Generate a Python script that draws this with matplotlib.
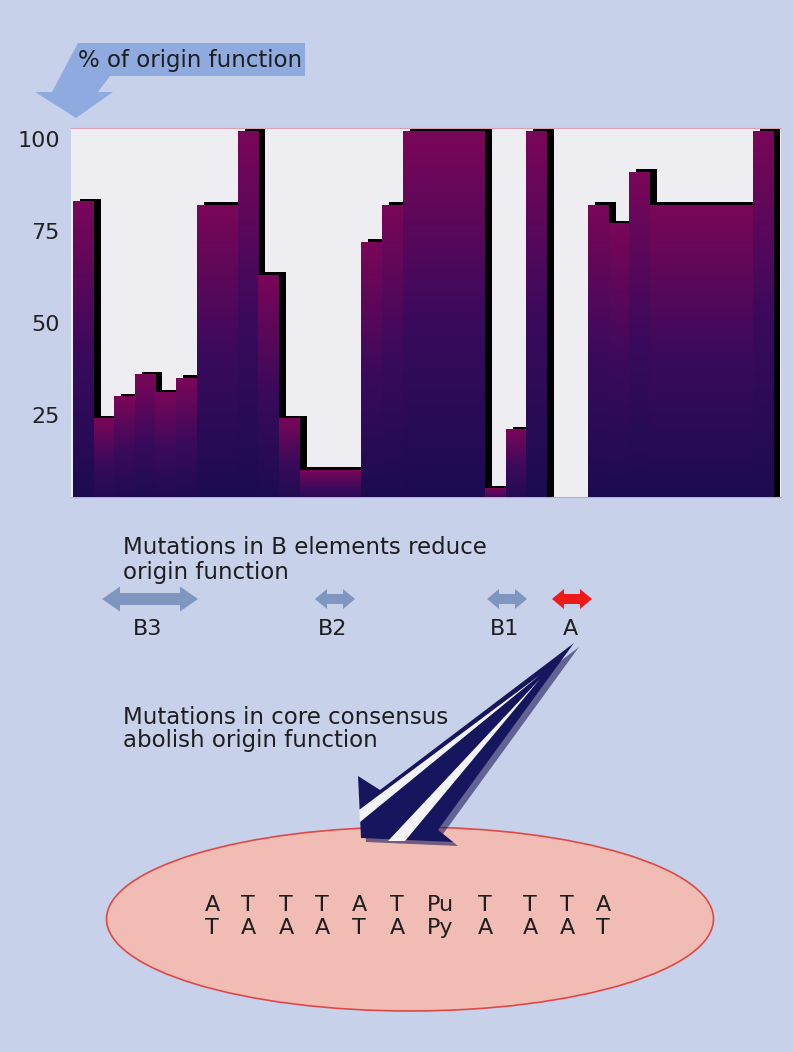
import numpy as np
import matplotlib.pyplot as plt
from matplotlib.colors import LinearSegmentedColormap
from matplotlib.patches import Polygon, Ellipse, Rectangle

# % of origin function for each mutant position (None = no mutant tested)
pct = [83, 24, 30, 36, 31, 35, 82, 82, 102, 63, 24, 10, 10, 10, 72, 82,
       102, 102, 102, 102, 5, 21, 102, None, None, 82, 77, 91, 82, 82, 82,
       82, 82, 102]
tick_vals = [100, 75, 50, 25]
elements = ['B3', 'B2', 'B1', 'A']
seq_top = ['A', 'T', 'T', 'T', 'A', 'T', 'Pu', 'T', 'T', 'T', 'A']
seq_bottom = ['T', 'A', 'A', 'A', 'T', 'A', 'Py', 'A', 'A', 'A', 'T']

W, H = 793, 1052
BG = '#c8d1ea'

fig = plt.figure(figsize=(W / 100, H / 100), dpi=100)
fig.patch.set_facecolor(BG)

"""Bar chart with gradient bars and black drop shadows"""
ax = fig.add_axes([71 / W, 1 - 497 / H, 710 / W, 369 / H])
ax.set_facecolor('#eeedf2')
cmap = LinearSegmentedColormap.from_list('bars', ['#1a0c50', '#3a0a5c', '#7a0658'])
grad = np.linspace(0, 1, 128).reshape(-1, 1)

for i, v in enumerate(pct):
    if v is None:
        continue
    ax.add_patch(Rectangle((i + 0.34, 0), 1, v + 0.8, facecolor='black',
                           lw=0, zorder=2))
for i, v in enumerate(pct):
    if v is None:
        continue
    ax.imshow(grad, extent=(i, i + 1, 0, v), origin='lower', cmap=cmap,
              aspect='auto', zorder=3, interpolation='bilinear')

ax.set_xlim(-0.1, 34.37)
ax.set_ylim(2.7, 103)
ax.set_xticks([])
ax.set_yticks(tick_vals)
ax.set_yticklabels([str(t) for t in tick_vals])
ax.tick_params(axis='y', length=0, pad=8, labelsize=16, labelcolor='#222222')
for s in ['left', 'right']:
    ax.spines[s].set_visible(False)
for s in ['top', 'bottom']:
    ax.spines[s].set_color('#d6a3b5')
    ax.spines[s].set_linewidth(0.8)

"""Overlay in pixel coordinates for the annotations"""
ov = fig.add_axes([0, 0, 1, 1], zorder=5)
ov.set_xlim(0, W)
ov.set_ylim(H, 0)
ov.axis('off')

# label box with bent arrow
ov.add_patch(Polygon([(78, 43), (305, 43), (305, 76), (110, 76), (98, 92),
                      (113, 92), (76, 118), (35, 92), (52, 92)],
                     closed=True, fc='#8eaadf', ec='none'))
ov.text(78, 60, '% of origin function', fontsize=16.5, va='center',
        ha='left', color='#1e1e1e')

ov.text(123, 547, 'Mutations in B elements reduce', fontsize=16.5,
        va='center', ha='left', color='#1e1e1e')
ov.text(123, 572, 'origin function', fontsize=16.5, va='center', ha='left',
        color='#1e1e1e')


def double_arrow(x0, x1, y, color, hl, hw, sw):
    pts = [(x0, y), (x0 + hl, y - hw), (x0 + hl, y - sw), (x1 - hl, y - sw),
           (x1 - hl, y - hw), (x1, y), (x1 - hl, y + hw), (x1 - hl, y + sw),
           (x0 + hl, y + sw), (x0 + hl, y + hw)]
    ov.add_patch(Polygon(pts, closed=True, fc=color, ec='none'))


spans = [(102, 198), (315, 355), (487, 527), (552, 592)]
for name, (x0, x1) in zip(elements, spans):
    col = '#ee1a1a' if name == 'A' else '#7e96c0'
    if x1 - x0 > 60:
        double_arrow(x0, x1, 599, col, 18, 12.5, 6)
    else:
        double_arrow(x0, x1, 599, col, 12, 10, 5)
    ov.text((x0 + x1) / 2 - 2, 629, name, fontsize=16, ha='center',
            va='center', color='#1e1e1e')

ov.text(123, 717, 'Mutations in core consensus', fontsize=16.5,
        va='center', ha='left', color='#1e1e1e')
ov.text(123, 741, 'abolish origin function', fontsize=16.5, va='center',
        ha='left', color='#1e1e1e')

# consensus ellipse
ov.add_patch(Ellipse((410, 919), 607, 184, fc='#f0bcb4', ec='#e04848',
                     lw=1.2))

# striped arrow from A down to the consensus
big = [(574, 643), (380, 790), (358, 776), (361, 838), (453, 842), (438, 830)]
ov.add_patch(Polygon([(x + 5, y + 4) for x, y in big], closed=True,
                     fc='#1c1c5a', ec='none', alpha=0.6))
ov.add_patch(Polygon(big, closed=True, fc='#16165e', ec='none'))
ov.add_patch(Polygon([(540, 675), (359, 810), (360, 822)], closed=True,
                     fc='#f4f4f8', ec='none'))
ov.add_patch(Polygon([(540, 679), (388, 841), (405, 841)], closed=True,
                     fc='#f4f4f8', ec='none'))

col_x = [212, 248, 286, 322, 359, 397, 440, 485, 530, 567, 603]
for x, a, b in zip(col_x, seq_top, seq_bottom):
    ov.text(x, 905, a, fontsize=16, ha='center', va='center', color='#1e1e1e')
    ov.text(x, 928, b, fontsize=16, ha='center', va='center', color='#1e1e1e')

fig.savefig('out.png', dpi=100, facecolor=BG)
